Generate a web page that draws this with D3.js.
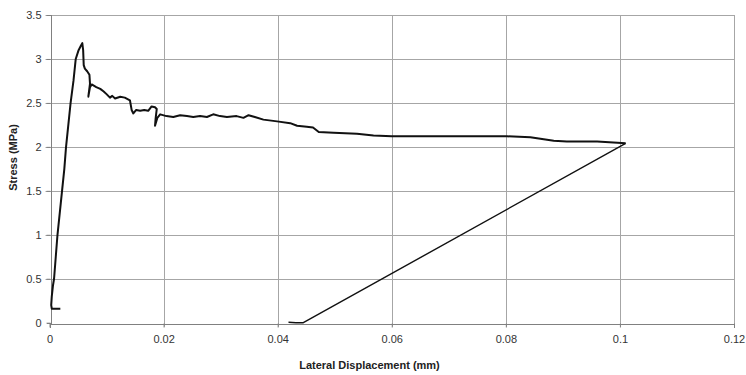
<!DOCTYPE html>
<html>
<head>
<meta charset="utf-8">
<script src="https://cdn.jsdelivr.net/npm/d3@7"></script>
<style>
  body { margin: 0; background: #fff; }
  svg text { font-family: "Liberation Sans", Arial, sans-serif; }
</style>
</head>
<body>
<div id="chart"></div>
<script>
// x values (mm) and stress values (MPa)
var dispX = [0.0019, 0.0004, 0.0003, 0.0004, 0.0006, 0.0008, 0.0011, 0.0014, 0.0018, 0.0022, 0.0026, 0.0029, 0.0033, 0.0037,
  0.0042, 0.0046, 0.0051, 0.0055, 0.00575, 0.0059, 0.006, 0.0062, 0.0066, 0.007, 0.0071, 0.0068, 0.0071, 0.0074,
  0.0082, 0.0089, 0.0095, 0.01, 0.0106, 0.011, 0.0115, 0.0124, 0.0132, 0.0141, 0.0144, 0.0147, 0.0152, 0.0159,
  0.0166, 0.0173, 0.0179, 0.0185, 0.0188, 0.0186, 0.0185, 0.0189, 0.0194, 0.0205, 0.0217, 0.0229, 0.0241, 0.0252,
  0.0264, 0.0276, 0.0287, 0.0299, 0.0311, 0.0328, 0.034, 0.0349, 0.036, 0.0375, 0.0399, 0.0422, 0.0434, 0.0451,
  0.0462, 0.0472, 0.0498, 0.0539, 0.0568, 0.06, 0.0691, 0.0744, 0.0802, 0.0843, 0.0884, 0.0907, 0.096, 0.101,
  0.0445, 0.0432, 0.0419];
var stress = [0.16, 0.16, 0.2, 0.3, 0.42, 0.5, 0.75, 1.0, 1.25, 1.5, 1.75, 2.0, 2.25, 2.5,
  2.75, 3.0, 3.1, 3.15, 3.18, 3.1, 2.93, 2.89, 2.86, 2.82, 2.72, 2.57, 2.68, 2.71,
  2.68, 2.66, 2.63, 2.6, 2.56, 2.58, 2.55, 2.57, 2.56, 2.53, 2.42, 2.38, 2.42, 2.41,
  2.42, 2.41, 2.46, 2.45, 2.43, 2.32, 2.24, 2.33, 2.37, 2.35, 2.34, 2.36, 2.35, 2.34,
  2.35, 2.34, 2.37, 2.35, 2.34, 2.35, 2.33, 2.36, 2.34, 2.31, 2.29, 2.27, 2.24, 2.23,
  2.22, 2.17, 2.16, 2.15, 2.13, 2.12, 2.12, 2.12, 2.12, 2.11, 2.07, 2.06, 2.06, 2.04,
  0, 0, 0.005];
var xTicks = [0, 0.02, 0.04, 0.06, 0.08, 0.1, 0.12];
var yTicks = [0, 0.5, 1, 1.5, 2, 2.5, 3, 3.5];

var width = 746, height = 375;
var plotLeft = 49.5, plotRight = 734, plotTop = 15, plotBottom = 322.7;

var svg = d3.select("#chart").append("svg")
    .attr("width", width)
    .attr("height", height);

var x = d3.scaleLinear().domain([0, 0.12]).range([plotLeft, plotRight]);
var y = d3.scaleLinear().domain([0, 3.5]).range([plotBottom, plotTop]);

//Grid
svg.append("g").selectAll("line").data(yTicks.slice(1)).enter().append("line")
    .attr("x1", plotLeft - 4).attr("x2", plotRight)
    .attr("y1", function (d) { return Math.round(y(d)) + 0.5; })
    .attr("y2", function (d) { return Math.round(y(d)) + 0.5; })
    .attr("stroke", "#a6a6a6").attr("stroke-width", 1);
svg.append("g").selectAll("line").data(xTicks.slice(1)).enter().append("line")
    .attr("y1", plotTop).attr("y2", plotBottom + 4)
    .attr("x1", function (d) { return Math.round(x(d)) + 0.5; })
    .attr("x2", function (d) { return Math.round(x(d)) + 0.5; })
    .attr("stroke", "#a6a6a6").attr("stroke-width", 1);

//Axes
var xAxis = svg.append("g")
    .attr("transform", "translate(0," + (Math.round(plotBottom) + 0.5) + ")")
    .call(d3.axisBottom(x).tickValues(xTicks).tickSize(4).tickPadding(8)
        .tickFormat(function (d) { return String(+d.toFixed(2)); }));
var yAxis = svg.append("g")
    .attr("transform", "translate(" + (Math.round(plotLeft) + 0.5) + ",0)")
    .call(d3.axisLeft(y).tickValues(yTicks).tickSize(4).tickPadding(5)
        .tickFormat(function (d) { return d; }));
[xAxis, yAxis].forEach(function (a) {
    a.select(".domain").attr("stroke", "#808080").attr("shape-rendering", "crispEdges");
    a.selectAll(".tick line").attr("stroke", "#808080");
    a.selectAll(".tick text").attr("fill", "#333").style("font-size", "11px");
});

//Curve: loading part is drawn heavier than the unloading line
var line = d3.line()
    .x(function (d) { return x(d[0]); })
    .y(function (d) { return y(d[1]); });
var points = dispX.map(function (d, i) { return [d, stress[i]]; });
var turn = dispX.indexOf(d3.max(dispX));
svg.append("path")
    .datum(points.slice(0, turn + 1))
    .attr("d", line)
    .attr("fill", "none")
    .attr("stroke", "#111")
    .attr("stroke-width", 2)
    .attr("stroke-linejoin", "round");
svg.append("path")
    .datum(points.slice(turn))
    .attr("d", line)
    .attr("fill", "none")
    .attr("stroke", "#111")
    .attr("stroke-width", 1.4)
    .attr("stroke-linejoin", "round");

//Titles
svg.append("text")
    .attr("x", 369.5).attr("y", 369)
    .attr("text-anchor", "middle")
    .style("font-size", "11px").style("font-weight", "bold").attr("fill", "#222")
    .text("Lateral Displacement (mm)");
svg.append("text")
    .attr("transform", "translate(17,157.5) rotate(-90)")
    .attr("text-anchor", "middle")
    .style("font-size", "11px").style("font-weight", "bold").attr("fill", "#222")
    .text("Stress (MPa)");
</script>
</body>
</html>
